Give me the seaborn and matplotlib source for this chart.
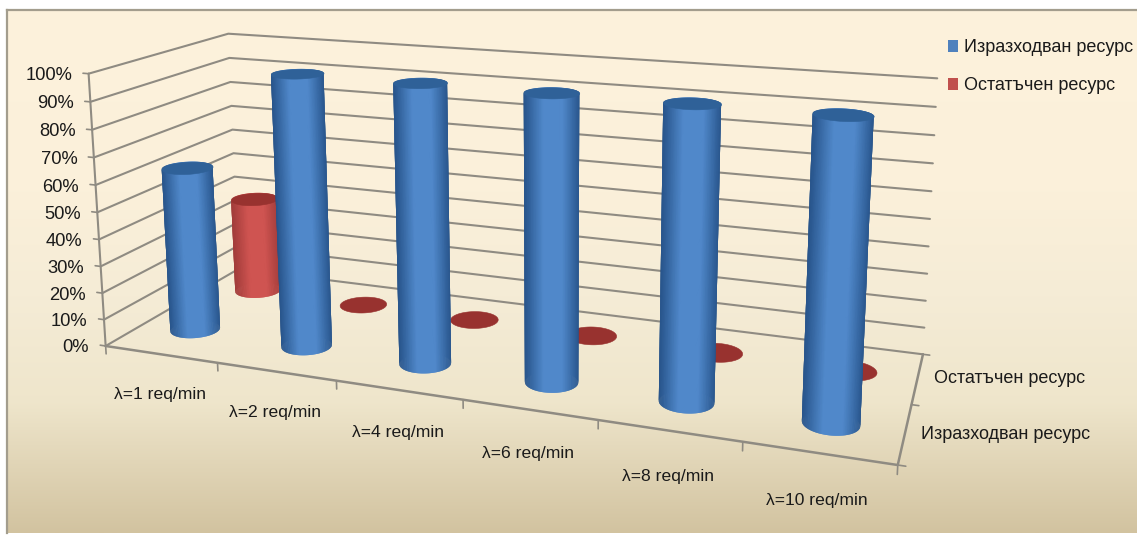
import numpy as np
import pandas as pd
import seaborn as sns
import matplotlib
matplotlib.use("Agg")
import matplotlib.pyplot as plt
from matplotlib.patches import Patch
from mpl_toolkits.mplot3d.art3d import Poly3DCollection

# Chart values
categories = ["λ=1 req/min", "λ=2 req/min", "λ=4 req/min",
              "λ=6 req/min", "λ=8 req/min", "λ=10 req/min"]
series_names = ["Изразходван ресурс", "Остатъчен ресурс"]
used = [62, 100, 100, 100, 100, 100]
remaining = [38, 0, 0, 0, 0, 0]
percent_ticks = list(range(0, 101, 10))

df = pd.DataFrame({"category": categories, series_names[0]: used, series_names[1]: remaining})

sns.set_theme(style="white")
plt.rcParams["font.family"] = ["Liberation Sans", "DejaVu Sans"]

W, H = 1137, 535
fig = plt.figure(figsize=(W / 100, H / 100), dpi=100, facecolor="white")

# Panel background: warm cream fading to tan near the bottom
bg = fig.add_axes([7 / W, 2 / H, (W - 7) / W, (H - 12) / H], zorder=0)
stop_pos = np.array([0.0, 0.35, 0.55, 0.75, 1.0])
colors = np.array(sns.blend_palette(["#fdf2dc", "#fbf0da", "#f5ecd6", "#efe6cc", "#d2c3a0"], 5))
ramp = np.linspace(0, 1, 256)
rgb = np.stack([np.interp(ramp, stop_pos, colors[:, c]) for c in range(3)], axis=1)
bg.imshow(rgb[:, None, :], aspect="auto", extent=(0, 1, 0, 1))
bg.set_xticks([]); bg.set_yticks([])
bg.grid(False)
for name, spine in bg.spines.items():
    spine.set_visible(name in ("top", "left"))
    spine.set_color("#a39d8d")
    spine.set_linewidth(1.6)

# Perspective camera fitted from where the box corners fall on the canvas
n_cat, n_depth = len(categories), len(series_names)
box_world = np.array([[0, 0, 0], [0, 0, 100], [0, n_depth, 100], [0, n_depth, 0],
                      [n_cat, n_depth, 0], [n_cat, n_depth, 100], [n_cat, 0, 0]], float)
box_canvas = np.array([[106, 343], [88, 75], [229, 32], [238, 272],
                       [923, 352], [937, 79], [898, 467]], float)
rows = []
for (x, y, z), (u, v) in zip(box_world, box_canvas):
    rows.append([x, y, z, 1, 0, 0, 0, 0, -u * x, -u * y, -u * z, -u])
    rows.append([0, 0, 0, 0, x, y, z, 1, -v * x, -v * y, -v * z, -v])
camera = np.linalg.svd(np.array(rows))[2][-1].reshape(3, 4)
if camera[2, 3] < 0:
    camera = -camera
camera = camera / camera[2, 3]

ax = fig.add_axes([0, 0, 1, 1], projection="3d", zorder=1)
ax.set_axis_off()
ax.patch.set_alpha(0)
ax.computed_zorder = False


def fitted_proj():
    disp_x = camera[0]
    disp_y = H * camera[2] - camera[1]
    a = ax.transData.inverted().get_matrix()
    row_x = a[0, 0] * disp_x + a[0, 1] * disp_y + a[0, 2] * camera[2]
    row_y = a[1, 0] * disp_x + a[1, 1] * disp_y + a[1, 2] * camera[2]
    depth = np.array([0, 0, 0, -1.0])
    return np.array([row_x, row_y, depth, camera[2]])


ax.get_proj = fitted_proj


def to_canvas(x, y, z):
    pts = np.c_[np.atleast_1d(x), np.atleast_1d(y), np.atleast_1d(z), np.ones(np.size(x))]
    h = pts @ camera.T
    return h[:, 0] / h[:, 2], h[:, 1] / h[:, 2]


def label_at(x, y, z, text, dx=0.0, dy=0.0, **kwargs):
    """Place flat text on the figure at a projected box position, nudged in pixels."""
    px, py = to_canvas(x, y, z)
    fig.text((px[0] + dx) / W, 1 - (py[0] + dy) / H, text, color="#1a1a1a", va="center", zorder=5, **kwargs)


# Gridlines on the two walls, axis lines on the floor
GRID = "#8f8b82"
for v in percent_ticks:
    ax.plot([0, 0, n_cat], [0, n_depth, n_depth], [v, v, v], color=GRID, lw=1.5, zorder=1, clip_on=False)
    ax.plot([-0.05, 0], [0, 0], [v, v], color=GRID, lw=1.2, zorder=1, clip_on=False)
    label_at(0, 0, v, f"{v}%", dx=-16.5, dy=2, ha="right", fontsize=13.2)
ax.plot([0, 0], [0, 0], [0, 100], color=GRID, lw=1.5, zorder=1, clip_on=False)
ax.plot([0, n_cat, n_cat], [0, 0, n_depth], [0, 0, 0], color=GRID, lw=1.8, zorder=1, clip_on=False)
for i in range(n_cat + 1):
    ax.plot([i, i], [0, 0], [0, -3], color=GRID, lw=1.2, zorder=1, clip_on=False)
for d in range(n_depth + 1):
    ax.plot([n_cat, n_cat + 0.05], [d, d], [0, 0], color=GRID, lw=1.2, zorder=1, clip_on=False)

# Category and series labels
for i, label in enumerate(categories):
    label_at(i + 0.474 + 0.005 * i, 0, -15.3, label, ha="center", fontsize=12.6)
for d, label in enumerate(series_names):
    label_at(n_cat + 0.635, d + 0.5, 4.3, label, ha="center", fontsize=13)

R_X, R_Y = 0.195, 0.195
THETA = np.linspace(0, 2 * np.pi, 181)


def cylinder(i, d, value, dark, light, cap, zorder):
    cx, cy = i + 0.46 + 0.01 * i, d + 0.55 - 0.012 * i
    xs, ys = cx + R_X * np.cos(THETA), cy + R_Y * np.sin(THETA)
    if value > 0:
        top = np.c_[xs, ys, np.full_like(xs, value)]
        bot = np.c_[xs, ys, np.zeros_like(xs)]
        # Shade by horizontal position on the canvas: dark rims, bright middle
        px, _ = to_canvas(xs, ys, np.zeros_like(xs))
        u = (px - px.min()) / (px.max() - px.min())
        pal = np.array(sns.blend_palette([dark, light, light, dark], 101))
        fc = pal[(u[:-1] * 100).astype(int)]
        # Strips overlap their neighbour by one step so no seams show
        quads = [[bot[k], bot[(k + 2) % 180], top[(k + 2) % 180], top[k]] for k in range(180)]
        side = Poly3DCollection(quads, facecolors=fc, edgecolors="none", linewidths=0, zorder=zorder)
        side.set_clip_on(False)
        side.set_snap(False)
        ax.add_collection3d(side)
    lid = Poly3DCollection([np.c_[xs, ys, np.full_like(xs, value)]], facecolors=cap,
                           edgecolors=cap, linewidths=0.4, zorder=zorder + 0.5)
    lid.set_clip_on(False)
    lid.set_snap(False)
    ax.add_collection3d(lid)


STYLES = {
    series_names[0]: ("#28558c", "#5088ca", "#2f6198"),
    series_names[1]: ("#a23c3a", "#cf5451", "#98322f"),
}
# Far row first so the near row overlaps it
for d, name in reversed(list(enumerate(series_names))):
    for i, value in enumerate(df[name]):
        cylinder(i, d, value, *STYLES[name], zorder=2 + (1 - d) * 2 + i * 0.01)

handles = [Patch(facecolor="#4f81bd", edgecolor="none"), Patch(facecolor="#c0504d", edgecolor="none")]
fig.legend(handles, series_names, loc="upper left", bbox_to_anchor=(932 / W, 1 - 23 / H),
           frameon=False, fontsize=13, handlelength=0.55, handleheight=0.62,
           handletextpad=0.3, labelspacing=1.15, labelcolor="#1a1a1a")

fig.savefig("out.png", dpi=100)
